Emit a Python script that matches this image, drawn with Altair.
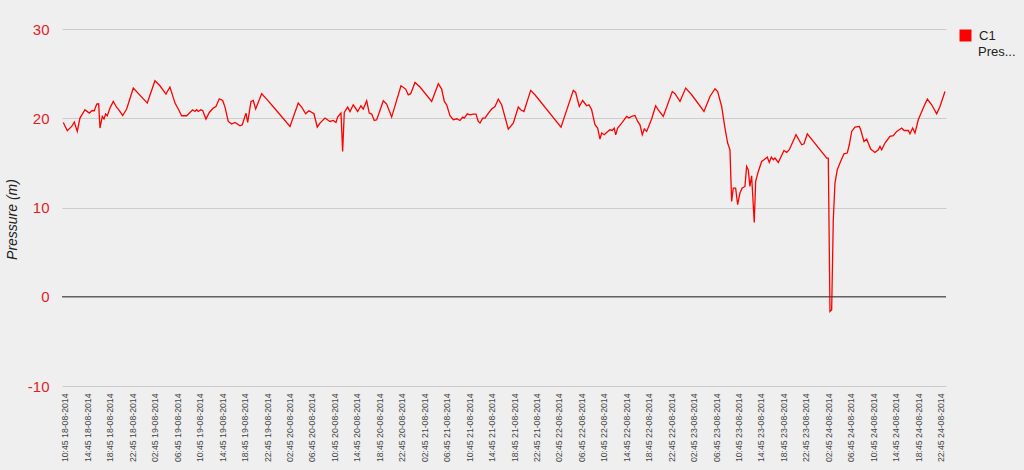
import altair as alt
import pandas as pd
from datetime import datetime, timedelta

# Hours since 10:45 18-08-2014 and pressure values (m)
hours = [
    -0.3, 0.41, 1.19, 1.66, 2.19, 2.67, 3.56, 4.33, 4.86, 5.22, 5.65, 6.00, 6.24, 6.65, 6.95,
    7.25, 7.54, 8.02, 8.61, 9.21, 9.50, 10.28, 10.99, 12.17, 14.66, 16.03, 16.92, 17.99, 18.70,
    19.60, 20.19, 20.79, 21.68, 22.75, 23.16, 23.46, 23.75, 24.18, 24.53, 25.12, 25.71, 26.42,
    26.90, 27.49, 28.10, 28.51, 29.09, 29.70, 30.29,
    31.18, 31.59, 32.25, 32.55, 33.14, 33.55, 33.97, 35.04, 35.93, 37.41, 40.09, 41.56, 42.17,
    42.88, 43.47, 44.36, 44.95, 45.43, 46.32, 47.21, 47.80, 48.28, 48.58, 49.17, 49.47, 49.76,
    50.36, 50.78, 51.36, 52.15, 52.73, 53.14, 53.75, 54.21, 54.64, 55.10, 55.53, 56.12, 56.71,
    57.31, 58.20, 59.86, 60.70, 61.16, 61.59, 62.36,
    63.25, 65.33, 66.51, 67.11, 67.58, 68.00, 68.59, 69.18, 69.79, 70.37, 70.85, 71.14, 71.68,
    72.15, 72.74, 73.22, 73.63, 73.94, 74.42, 74.83, 75.31, 76.02, 76.61, 77.20, 77.80, 78.98,
    79.87, 80.76, 81.19, 81.77, 82.97, 83.73, 88.37, 90.56, 90.98, 91.63, 92.23, 92.94,
    93.35, 93.83, 94.42, 94.90, 95.31, 95.61, 96.08, 96.50, 97.09, 97.50, 97.86, 98.11, 98.47,
    99.18, 100.07, 100.48, 100.96, 101.55, 102.03, 102.44, 102.85, 103.21, 103.63, 104.52,
    105.23, 105.70, 106.59, 108.20, 108.68, 109.57, 110.58, 111.65, 113.84, 114.91, 115.80,
    116.28, 116.99, 117.58, 118.06, 118.47, 118.77, 119.06, 119.48, 119.84, 120.25, 120.66,
    121.14, 121.44, 121.73, 122.03, 122.33, 122.80, 123.05, 123.52, 124.12, 124.71,
    125.12, 125.48, 125.84, 126.19, 126.49, 127.08, 128.10, 128.58, 129.04, 130.24, 131.25,
    131.66, 132.25, 135.71, 135.99, 136.29, 136.59, 136.88, 137.18, 137.59, 138.07, 138.78,
    139.37, 139.73, 140.16, 140.74, 141.51, 141.76, 142.35, 142.83, 143.54, 144.30, 144.89,
    145.20, 145.50, 146.09, 146.98, 147.57, 148.18, 149.07, 149.48, 150.24, 150.54, 151.02,
    151.43, 152.02, 152.91, 153.63, 154.41, 155.30, 155.89, 156.78,
]
pressure = [
    19.53, 18.60, 19.08, 19.57, 18.52, 20.02, 20.95, 20.58, 20.87, 20.84, 21.59, 21.62, 18.90,
    20.20, 19.91, 20.47, 20.28, 21.14, 21.88, 21.21, 21.03, 20.31, 21.03, 23.38, 21.70, 24.20,
    23.64, 22.71, 23.50, 21.70, 21.03, 20.28, 20.28, 20.95, 20.76, 20.95, 20.76, 20.95, 20.87,
    19.91, 20.65, 21.14, 21.32, 22.18, 21.99, 21.25, 19.64, 19.35, 19.53,
    19.16, 19.27, 20.58, 19.53, 21.88, 21.99, 21.03, 22.75, 22.15, 21.06, 19.08, 21.70, 21.25,
    20.50, 20.84, 20.50, 19.01, 19.46, 20.02, 19.64, 19.75, 19.53, 20.13, 20.58, 16.28, 20.65,
    21.25, 20.76, 21.51, 20.76, 21.40, 21.03, 21.96, 20.58, 20.47, 19.75, 19.83, 20.87, 21.96,
    21.59, 20.13, 23.64, 23.27, 22.63, 22.75, 24.01,
    23.50, 21.88, 23.87, 23.27, 21.88, 21.51, 20.28, 19.83, 19.94, 19.75, 20.13, 20.02, 20.50,
    20.39, 20.47, 20.47, 19.64, 19.46, 20.02, 20.02, 20.47, 21.03, 21.32, 22.15, 21.51, 18.79,
    19.46, 21.25, 20.95, 20.76, 23.12, 22.63, 19.01, 23.12, 22.89, 21.32, 21.99, 21.40,
    21.51, 20.95, 19.27, 18.90, 17.67, 18.34, 18.15, 18.41, 18.71, 18.63, 18.90, 18.15, 18.90,
    19.46, 20.20, 20.02, 20.20, 20.31, 19.64, 19.27, 18.15, 18.79, 18.52, 19.91,
    21.40, 20.95, 20.20, 23.00, 22.75, 21.88, 23.38, 22.63, 20.76, 22.44, 23.31,
    23.00, 21.32, 18.90, 17.22, 16.47, 10.68, 12.18, 12.18, 10.31, 11.62, 12.18,
    12.36, 14.60, 14.23, 12.36, 13.56, 8.32, 12.92, 14.04, 15.16, 15.43,
    15.65, 15.05, 15.65, 15.35, 15.54, 15.05, 16.39, 16.17, 16.47, 18.15, 17.03,
    17.14, 18.26, 15.54, 15.54, -1.65, -1.46, 8.63, 12.74, 14.23, 14.98, 16.02,
    16.10, 17.03, 18.52, 19.01, 19.08, 18.71, 17.40, 17.67, 16.55, 16.17, 16.47,
    16.84, 16.47, 17.22, 17.96, 18.04, 18.52, 18.90, 18.63, 18.63, 18.26, 18.90,
    18.34, 19.83, 21.14, 22.15, 21.51, 20.50, 21.32, 23.00,
]
series_name = "C1 Pressure (m)"

# Tick positions (hours) and their labels, every 4 hours
tick_hours = list(range(0, 157, 4))
start = datetime(2014, 8, 18, 10, 45)
tick_labels = [(start + timedelta(hours=h)).strftime("%H:%M %d-%m-%Y") for h in tick_hours]
y_ticks = [-10, 0, 10, 20, 30]

df = pd.DataFrame({"hour": hours, "pressure": pressure, "series": series_name})
zero_df = pd.DataFrame({"y": [0]})

label_array = "[" + ",".join("'" + s + "'" for s in tick_labels) + "]"
label_expr = label_array + "[round(datum.value / 4)]"

FONT = "Liberation Sans"

line = alt.Chart(df).mark_line(strokeWidth=1.3, interpolate="linear").encode(
    x=alt.X(
        "hour:Q",
        scale=alt.Scale(domain=[-0.53, 156.96], nice=False, zero=False),
        axis=alt.Axis(
            values=tick_hours,
            labelExpr=label_expr,
            labelAngle=270,
            labelAlign="right",
            labelBaseline="middle",
            labelFontSize=8.7,
            labelColor="#444444",
            labelPadding=7,
            labelOverlap=False,
            labelFont=FONT,
            grid=False,
            ticks=False,
            domain=False,
            title=None,
        ),
    ),
    y=alt.Y(
        "pressure:Q",
        scale=alt.Scale(domain=[-10, 30], nice=False, zero=False),
        axis=alt.Axis(
            values=y_ticks,
            labelExpr="'' + datum.value",
            labelFontSize=15,
            labelColor="#e01e2a",
            labelFont=FONT,
            labelPadding=13,
            gridColor="#cccccc",
            gridWidth=1,
            ticks=False,
            domain=False,
            title="Pressure (m)",
            titleFont=FONT,
            titleFontSize=14,
            titleFontStyle="italic",
            titleFontWeight="normal",
            titleColor="#222222",
            titleAngle=270,
            titleX=-50,
            titleY=190,
            titleAlign="center",
            titleBaseline="middle",
        ),
    ),
    color=alt.Color(
        "series:N",
        scale=alt.Scale(range=["#ff0000"]),
        legend=alt.Legend(
            orient="none",
            legendX=897,
            legendY=0,
            title=None,
            symbolType="square",
            symbolSize=144,
            symbolFillColor="#ff0000",
            symbolStrokeWidth=0,
            labelExpr="'C1'",
            labelFont=FONT,
            labelFontSize=13,
            labelColor="#222222",
            labelOffset=7,
        ),
    ),
)

zero_rule = alt.Chart(zero_df).mark_rule(color="#333333", strokeWidth=1).encode(y="y:Q")

legend_sub = alt.Chart(zero_df).mark_text(
    text="Pres...", font=FONT, fontSize=13, color="#222222", align="left", baseline="middle"
).encode(x=alt.value(916), y=alt.value(23))

chart = alt.layer(line, zero_rule, legend_sub).properties(
    width=884,
    height=357,
    background="#efefef",
    padding={"left": 62, "top": 29, "right": 78, "bottom": 84},
    autosize=alt.AutoSizeParams(type="none"),
).configure_view(stroke=None)

chart.save("out.html", embed_options={"renderer": "svg", "actions": False})
